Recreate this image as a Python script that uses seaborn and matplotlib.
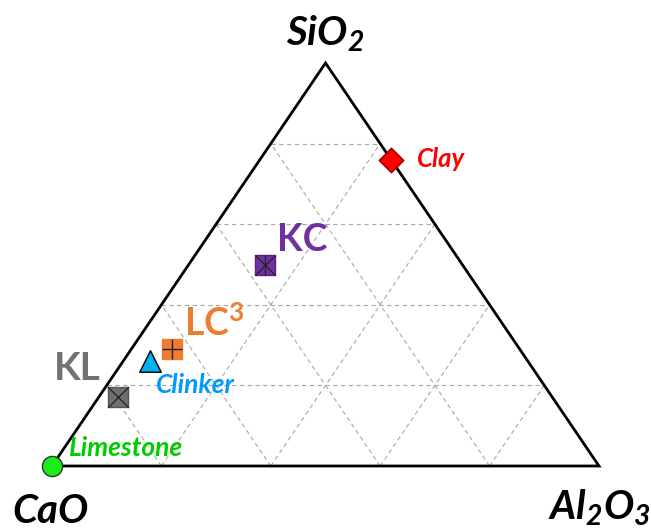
import numpy as np
import pandas as pd
import seaborn as sns
import matplotlib.pyplot as plt

sns.set_style("white")
plt.rcParams['font.family'] = ['Lato', 'DejaVu Sans']
plt.rcParams['mathtext.fontset'] = 'custom'
plt.rcParams['mathtext.it'] = 'Lato:bold:italic'
plt.rcParams['mathtext.rm'] = 'Lato:bold:italic'
plt.rcParams['mathtext.bf'] = 'Lato:bold'

# compositions (fractions)
names = ["Limestone", "KL", "Clinker", "LC3", "KC", "Clay"]
cao = [1.00, 0.795, 0.69, 0.635, 0.36, 0.00]
sio2 = [0.00, 0.17, 0.26, 0.29, 0.50, 0.76]
al2o3 = [0.00, 0.035, 0.05, 0.075, 0.14, 0.24]

H = np.sqrt(3) / 2


def tern(ca, si, al):
    ca, si, al = np.asarray(ca), np.asarray(si), np.asarray(al)
    return al + si / 2, si * H


fig = plt.figure(figsize=(6.51, 5.30), dpi=100)
ax = fig.add_axes([0, 0, 1, 1])
ax.set_xlim(-52 / 547, 599 / 547)
ax.set_ylim(-64 * H / 403, 466 * H / 403)
ax.axis("off")

# grid
for k in [0.2, 0.4, 0.6, 0.8]:
    for a, b in [((1 - k, k, 0), (0, k, 1 - k)),
                 ((1 - k, 0, k), (0, 1 - k, k)),
                 ((k, 0, 1 - k), (k, 1 - k, 0))]:
        x0, y0 = tern(*a)
        x1, y1 = tern(*b)
        ax.plot([x0, x1], [y0, y1], color="#a8a8a8", lw=0.8,
                ls=(0, (4, 3)), zorder=1)

# outline
ox, oy = tern([1, 0, 0, 1], [0, 1, 0, 0], [0, 0, 1, 0])
ax.plot(ox, oy, color="black", lw=2.0, zorder=2, solid_joinstyle="miter")

px, py = tern(cao, sio2, al2o3)
df = pd.DataFrame({"x": px, "y": py, "name": names})

fills = {"Limestone": "#1aee1a", "KL": "#6f6f6f", "Clinker": "#00b0f0",
         "LC3": "#ed7d31", "KC": "#7030a0", "Clay": "#ff0000"}
marks = {"Limestone": "o", "KL": "s", "Clinker": "^",
         "LC3": "s", "KC": "s", "Clay": "D"}
sizes = {"Limestone": 14.5, "KL": 15, "Clinker": 15.5,
         "LC3": 15, "KC": 14.5, "Clay": 12.5}
edges = {"Limestone": "#333333", "KL": "#555555", "Clinker": "black",
         "LC3": "#ed7d31", "KC": "#5a2080", "Clay": "#8b0000"}

for n in names:
    d = df[df.name == n]
    sns.scatterplot(data=d, x="x", y="y", marker=marks[n], s=sizes[n] ** 2,
                    color=fills[n], edgecolor=edges[n], linewidth=1.0,
                    zorder=5, ax=ax, legend=False, clip_on=False)

# inner symbols
row = df.set_index("name")
ax.scatter(row.loc["KL", "x"], row.loc["KL", "y"], marker="x", s=15 ** 2,
           color="#222222", linewidths=0.9, zorder=6)
ax.scatter(row.loc["LC3", "x"], row.loc["LC3", "y"], marker="+", s=15 ** 2,
           color="#222222", linewidths=1.0, zorder=6)
ax.scatter(row.loc["KC", "x"], row.loc["KC", "y"], marker="x", s=14.5 ** 2,
           color="#222222", linewidths=0.9, zorder=6)
ax.scatter(row.loc["KC", "x"], row.loc["KC", "y"], marker="|", s=14.5 ** 2,
           color="#222222", linewidths=0.9, zorder=6)

# point labels: (text, color, offset px, ha, style, size)
labels = [
    ("Limestone", "Limestone", "#00cc00", (17, 10), "left", "italic", 19),
    ("KL", "KL", "#767171", (-17, 17), "right", "normal", 28),
    ("Clinker", "Clinker", "#0099ff", (5, -32), "left", "italic", 19),
    ("LC3", "LC$^\\mathbf{3}$", "#ed7d31", (12, 13), "left", "normal", 27),
    ("KC", "KC", "#7030a0", (12, 14), "left", "normal", 27),
    ("Clay", "Clay", "#ff0000", (26, -7), "left", "italic", 18.5),
]
for key, txt, col, off, ha, st, fs in labels:
    ax.annotate(txt, (row.loc[key, "x"], row.loc[key, "y"]), xytext=off,
                textcoords="offset pixels", ha=ha, va="baseline", color=col,
                fontsize=fs, fontweight="bold", fontstyle=st, zorder=7)

# vertex labels
vert = [("SiO$_2$", (0.5, H), (-39, 17)),
        ("CaO", (0, 0), (-40, -57)),
        ("Al$_2$O$_3$", (1, 0), (-51, -54))]
for txt, xy, off in vert:
    ax.annotate(txt, xy, xytext=off, textcoords="offset pixels", ha="left",
                va="baseline", fontsize=29, fontweight="bold",
                fontstyle="italic", color="black")

fig.savefig("out.png", dpi=100)
